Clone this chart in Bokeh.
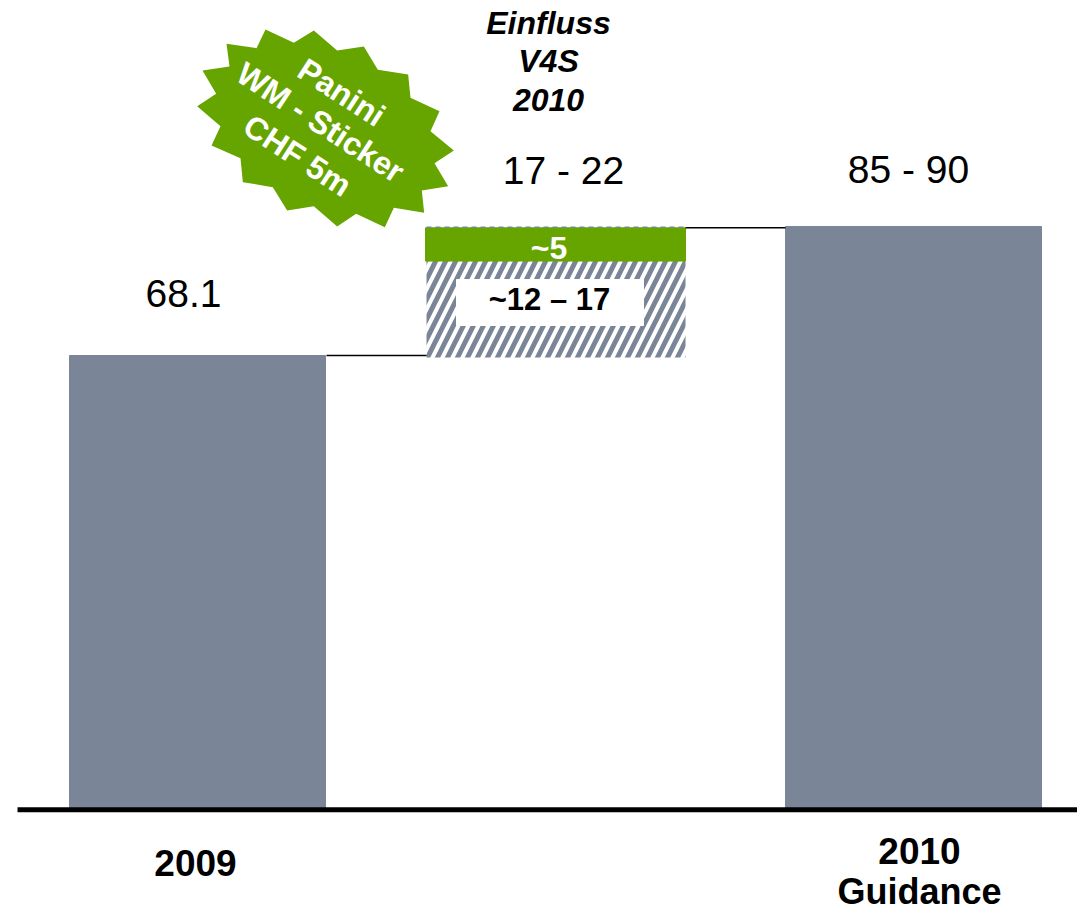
from bokeh.core.properties import value
from bokeh.embed import file_html
from bokeh.models import ColumnDataSource, Range1d
from bokeh.plotting import figure
from bokeh.resources import INLINE

# Earnings bridge, values in CHF m
categories = ["2009", "2010\nGuidance"]
bar_values = [68.1, 87.5]
bar_labels = ["68.1", "85 - 90"]
bridge_base = 67.8
organic_value = 14.5
organic_label = "~12 – 17"
panini_value = 5
panini_label = "~5"
bridge_label = "17 - 22"
bridge_title = ["Einfluss", "V4S", "2010"]
badge_lines = ["Panini", "WM - Sticker", "CHF 5m"]

GREY = "#7b8598"
GREEN = "#66a500"
SANS = value("Liberation Sans")

# Value scale on y, with a pixel-based range for callouts and captions
p = figure(width=1077, height=913, output_backend="svg", toolbar_location=None,
           x_range=Range1d(0, 1077), y_range=Range1d(-15.78, 121.47),
           min_border=0, outline_line_color=None)
p.extra_y_ranges = {"px": Range1d(913, 0)}
p.axis.visible = False
p.grid.visible = False
p.background_fill_color = "white"

# Totals
bars = ColumnDataSource(dict(x=[197, 913], top=bar_values))
p.vbar(x="x", top="top", bottom=0, width=256, color=GREY, source=bars)

# Bridge segments
organic_top = bridge_base + organic_value
panini_top = organic_top + panini_value
p.vbar(x=[555.5], bottom=[bridge_base], top=[organic_top + 1], width=259,
       fill_color="white", line_color=None, hatch_pattern="right_diagonal_line",
       hatch_color=GREY, hatch_weight=5, hatch_scale=20)
p.vbar(x=[555], bottom=[organic_top], top=[panini_top], width=260,
       color=GREEN)
p.segment(x0=[426], x1=[685], y0=[panini_top + 0.1], y1=[panini_top + 0.1],
          line_color=GREY, line_width=1.5, line_dash="5 4")

# Label plate on the hatched segment
p.quad(left=[456], right=[643], top=[279], bottom=[325], color="white",
       y_range_name="px")

# Connectors
p.segment(x0=[326, 685], x1=[426, 785], y0=[bar_values[0], panini_top],
          y1=[bar_values[0], panini_top], line_color="black", line_width=1.5)

# Baseline
p.segment(x0=[17], x1=[1077], y0=[-0.2], y1=[-0.2], line_color="black", line_width=5)

# Starburst badge
star_trace = [(255, 57), (340, 97), (400, 60), (470, 120), (550, 108), (592, 178),
              (683, 192), (690, 262), (777, 302), (750, 362), (820, 420), (762, 458),
              (803, 527), (724, 540), (731, 607), (640, 592), (613, 650), (527, 610),
              (470, 648), (400, 587), (320, 600), (277, 530), (187, 515), (180, 443),
              (93, 405), (120, 347), (50, 287), (107, 250), (66, 180), (147, 168),
              (138, 100), (228, 113)]
p.patch(x=[180 + a / 3 for a, _ in star_trace], y=[10 + b / 3 for _, b in star_trace],
        color=GREEN, line_width=0, y_range_name="px")
p.text(x=[341, 320, 297], y=[92, 122, 155], text=badge_lines, angle=-33,
       angle_units="deg", text_align="center", text_baseline="middle",
       text_color="white", text_font=SANS, text_font_style="bold",
       text_font_size="32px", y_range_name="px")

# Value labels
p.text(x=[183, 908, 563], y=[293, 169, 170], text=bar_labels + [bridge_label],
       text_align="center", text_baseline="middle", text_color="black",
       text_font=SANS, text_font_size="39px", y_range_name="px")
p.text(x=[548, 548, 548], y=[22, 60, 99], text=bridge_title, text_align="center",
       text_baseline="middle", text_color="black", text_font=SANS,
       text_font_style="bold italic", text_font_size="32px", y_range_name="px")
p.text(x=[548.5], y=[247], text=[panini_label], text_align="center",
       text_baseline="middle", text_color="white", text_font=SANS,
       text_font_style="bold", text_font_size="32px", y_range_name="px")
p.text(x=[549], y=[299], text=[organic_label], text_align="center",
       text_baseline="middle", text_color="black", text_font=SANS,
       text_font_style="bold", text_font_size="31px", y_range_name="px")

# Category captions
first, second = categories[1].split("\n")
p.text(x=[195, 919], y=[862, 850], text=[categories[0], first],
       text_align="center", text_baseline="middle", text_color="black",
       text_font=SANS, text_font_style="bold", text_font_size="37px",
       y_range_name="px")
p.text(x=[919], y=[891], text=[second],
       text_align="center", text_baseline="middle", text_color="black",
       text_font=SANS, text_font_style="bold", text_font_size="36px",
       y_range_name="px")

open("out.html", "w").write(file_html(p, INLINE))
